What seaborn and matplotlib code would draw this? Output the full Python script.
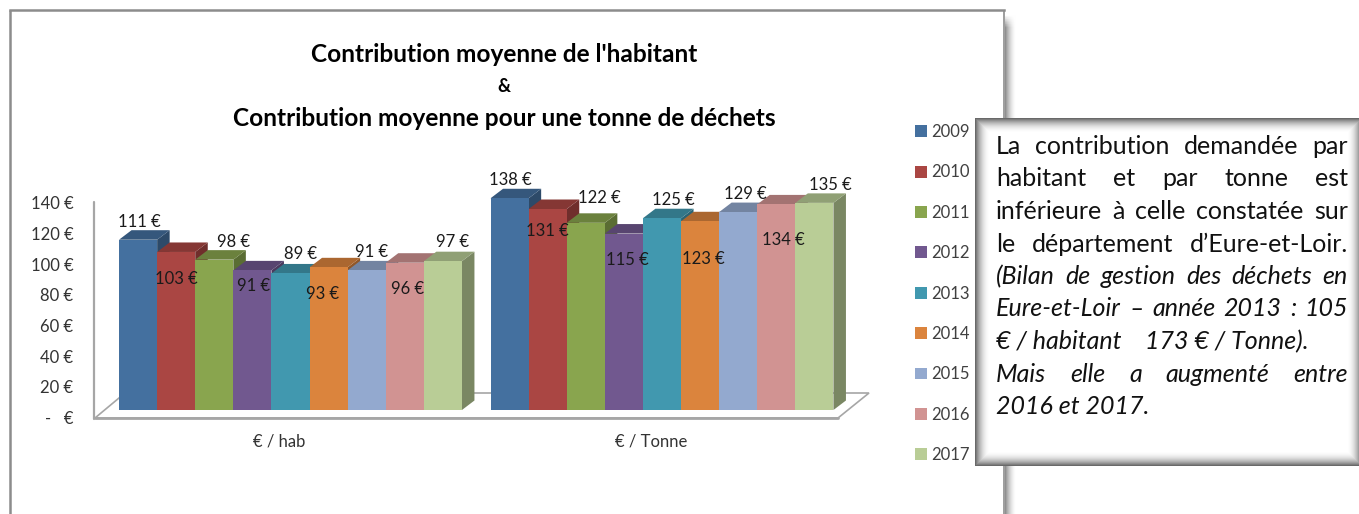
import numpy as np
import pandas as pd
import matplotlib
matplotlib.use("Agg")
import matplotlib.pyplot as plt
from matplotlib.colors import to_rgb, LinearSegmentedColormap
from matplotlib.patches import Polygon
from matplotlib.transforms import ScaledTranslation, IdentityTransform
import seaborn as sns

W, H = 1359, 514

categories = ["€ / hab", "€ / Tonne"]
years = ["2009", "2010", "2011", "2012", "2013", "2014", "2015", "2016", "2017"]
hab_values = [111, 103, 98, 91, 89, 93, 91, 96, 97]
tonne_values = [138, 131, 122, 115, 125, 123, 129, 134, 135]
colors = ["#44709F", "#AA4643", "#89A54E", "#71588F", "#4198AF",
          "#DB843D", "#93A9CF", "#D19392", "#B9CD96"]

# label offsets from top centre of each bar, px (x right, y down)
hab_offsets = [(1, -19), (0, 26), (19, -19), (1, 15), (10, -20), (-6, 26), (5, -19), (3, 25), (10, -20)]
tonne_offsets = [(1, -19), (0, 21), (14, -26), (3, 25), (11, -19), (3, 37), (7, -19), (7, 35), (16, -19)]

title_lines = ["Contribution moyenne de l'habitant", "&",
               "Contribution moyenne pour une tonne de déchets"]
box_lines = [
    ("La contribution demandée par", "normal", True),
    ("habitant et par tonne est", "normal", True),
    ("inférieure à celle constatée sur", "normal", True),
    ("le département d’Eure-et-Loir.", "normal", True),
    ("(Bilan de gestion des déchets en", "italic", True),
    ("Eure-et-Loir – année 2013 : 105", "italic", True),
    ("€ / habitant    173 € / Tonne).", "italic", False),
    ("Mais elle a augmenté entre", "italic", True),
    ("2016 et 2017.", "italic", False),
]

sns.set_theme(style="white")
plt.rcParams["font.family"] = ["Lato", "DejaVu Sans"]

fig = plt.figure(figsize=(W / 100, H / 100), dpi=100)

# page decoration, pixel coordinates
deco = fig.add_axes([0, 0, 1, 1], zorder=0)
deco.set_xlim(0, W)
deco.set_ylim(H, 0)
deco.axis("off")
grey = "#8C8C8C"
deco.plot([10, 10], [H, 10], color=grey, lw=1.8, solid_capstyle="butt")
deco.plot([10, 1004], [10, 10], color=grey, lw=1.8, solid_capstyle="projecting")
deco.plot([1004, 1004], [10, H], color=grey, lw=1.2, solid_capstyle="butt")
# frame shadow
shade = LinearSegmentedColormap.from_list("shade", ["#FFFFFF", "#8A8A8A"])
sx = np.linspace(1, 0, 40) ** 1.6
sy = np.clip(np.linspace(0, 1, 200) * 40, 0, 1)
deco.imshow(np.outer(sy, sx), extent=(1005, 1016, H, 14), cmap=shade, vmin=0, vmax=1, aspect="auto", zorder=1)
deco.set_xlim(0, W)
deco.set_ylim(H, 0)

# floor and left wall of the 3D plot
deco.add_patch(Polygon([(95, 418), (838, 418), (869, 393), (125, 393)], closed=True,
                       facecolor="white", edgecolor="#A6A6A6", lw=1.2, zorder=2))
deco.plot([95, 838], [418, 418], color="#A6A6A6", lw=2, zorder=3)
deco.plot([94, 94], [202, 419], color="#A6A6A6", lw=1.6, zorder=3)

# bars
ax = fig.add_axes([104.75 / W, (H - 410) / H, 743 / W, 214.8 / H], zorder=1)
ax.patch.set_alpha(0)
df = pd.DataFrame({
    "categorie": [categories[0]] * len(years) + [categories[1]] * len(years),
    "annee": years + years,
    "valeur": hab_values + tonne_values,
})
sns.barplot(data=df, x="categorie", y="valeur", hue="annee", palette=colors, saturation=1,
            width=0.923, gap=0, dodge=True, errorbar=None, linewidth=0, ax=ax)
ax.set_xlim(-0.5, 1.5)
ax.set_ylim(0, 140)
ax.set_xlabel("")
ax.set_ylabel("")
for s in ax.spines.values():
    s.set_visible(False)
ax.set_yticks(range(0, 141, 20))
ax.set_yticklabels(["-   €"] + [f"{v} €" for v in range(20, 141, 20)])
ax.tick_params(axis="y", length=0, pad=22.5, labelsize=12, labelcolor="#333333")
ax.tick_params(axis="x", length=0, pad=17, labelsize=12, labelcolor="#333333")
for lab in ax.get_yticklabels():
    lab.set_transform(lab.get_transform() + ScaledTranslation(0, -7.5 / 100, fig.dpi_scale_trans))
for lab in ax.get_xticklabels():
    lab.set_transform(lab.get_transform() + ScaledTranslation(-11 / 100, 0, fig.dpi_scale_trans))

# 3D faces drawn left to right, taken from the bars seaborn made
DX, DY = 12.5, 9.5
order = 10
for g in range(2):
    for i, cont in enumerate(ax.containers):
        bar = cont[g]
        x0, w, h = bar.get_x(), bar.get_width(), bar.get_height()
        (lx, by), (rx, ty) = ax.transData.transform([(x0, 0), (x0 + w, h)])
        base = np.array(to_rgb(colors[i]))
        ax.add_patch(Polygon([(rx, by), (rx + DX, by + DY), (rx + DX, ty + DY), (rx, ty)], closed=True,
                             facecolor=base * 0.66, edgecolor="none", transform=IdentityTransform(),
                             zorder=order, clip_on=False))
        ax.add_patch(Polygon([(lx, ty), (lx + DX, ty + DY), (rx + DX, ty + DY), (rx, ty)], closed=True,
                             facecolor=base * 0.78, edgecolor="none", transform=IdentityTransform(),
                             zorder=order + 1, clip_on=False))
        bar.set_zorder(order + 2)
        order += 3
for g, offsets in enumerate([hab_offsets, tonne_offsets]):
    for i, cont in enumerate(ax.containers):
        bar = cont[g]
        ax.annotate(f"{int(bar.get_height())} €",
                    xy=(bar.get_x() + bar.get_width() / 2, bar.get_height()),
                    xytext=(offsets[i][0], -offsets[i][1] - 1), textcoords="offset pixels",
                    ha="center", va="center", fontsize=12, color="#1A1A1A", zorder=200,
                    annotation_clip=False)

sns.move_legend(ax, "upper left", bbox_to_anchor=(910 / W, 1 - 119 / H), bbox_transform=fig.transFigure,
                frameon=False, title=None, ncol=1, fontsize=12, labelspacing=1.463,
                handlelength=0.72, handleheight=0.72, handletextpad=0.25, borderpad=0.3,
                borderaxespad=0, labelcolor="#404040")

# title
for y, line in zip([55, 86, 118], title_lines):
    deco.text(504, y, line, ha="center", va="center", fontsize=17.6 if line != "&" else 13,
              fontweight="bold", color="black", zorder=5)

# text box with inner shadow
box = fig.add_axes([0, 0, 1, 1], zorder=2)
box.set_xlim(0, W)
box.set_ylim(H, 0)
box.axis("off")
bx0, bx1, by0, by1 = 975, 1362, 118, 466
xx, yy = np.meshgrid(np.arange(bx0, bx1) + 0.5, np.arange(by0, by1) + 0.5)
dist = np.minimum.reduce([xx - bx0, bx1 - xx, yy - by0, by1 - yy])
box.imshow(np.clip(1 - dist / 15, 0, 1) ** 2, extent=(bx0, bx1, by1, by0),
           cmap=LinearSegmentedColormap.from_list("edge", ["#FFFFFF", "#606060"]),
           vmin=0, vmax=1, aspect="auto", zorder=1)
box.set_xlim(0, W)
box.set_ylim(H, 0)

# justified text, word by word
rend = fig.canvas.get_renderer()
LEFT, RIGHT = 996, 1348
for n, (line, style, justify) in enumerate(box_lines):
    y = 154 + n * 32.5
    if not justify:
        box.text(LEFT, y, line, fontsize=18, style=style, color="#111111", va="baseline", zorder=3)
        continue
    words = [box.text(LEFT, y, w, fontsize=18, style=style, color="#111111", va="baseline", zorder=3)
             for w in line.split()]
    widths = [t.get_window_extent(rend).width for t in words]
    gap = (RIGHT - LEFT - sum(widths)) / (len(words) - 1)
    x = LEFT
    for t, wd in zip(words, widths):
        t.set_x(x)
        x += wd + gap

fig.savefig("out.png", dpi=100)
